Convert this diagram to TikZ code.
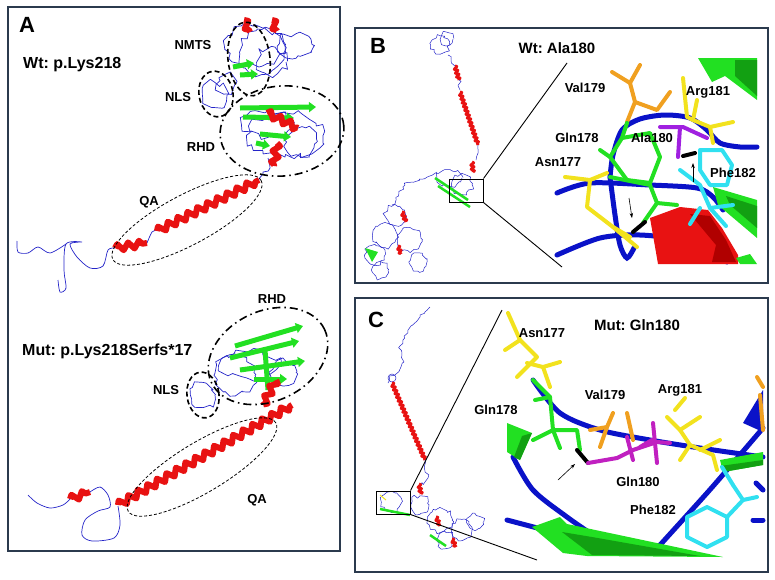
\documentclass[tikz,border=0pt]{standalone}
\usepackage{fontspec}
\setmainfont{Liberation Sans}
\usetikzlibrary{arrows.meta,decorations.pathmorphing,shapes.geometric}
\frenchspacing

\definecolor{panelc}{HTML}{2B3A4E}
\definecolor{coilc}{HTML}{2424C8}
\definecolor{helixc}{HTML}{E81212}
\definecolor{darkred}{HTML}{B00000}
\definecolor{strandc}{HTML}{22E022}
\definecolor{darkgreen}{HTML}{12A012}
\definecolor{bbc}{HTML}{0A12C8}
\definecolor{yelc}{HTML}{F2E21E}
\definecolor{orgc}{HTML}{F0A020}
\definecolor{cyanc}{HTML}{30E0F0}
\definecolor{purc}{HTML}{A020E0}
\definecolor{magc}{HTML}{C020C0}

\tikzset{
  panel/.style={draw=panelc, line width=1.8pt},
  coil/.style={draw=coilc, line width=0.7pt, line join=round, decorate, decoration={random steps, segment length=5pt, amplitude=3.5pt}},
  tinycoil/.style={draw=coilc, line width=0.5pt, line join=round, decorate, decoration={random steps, segment length=3pt, amplitude=2pt}},
  helix/.style={draw=helixc, line width=6pt, line join=round, decorate, decoration={zigzag, segment length=11pt, amplitude=3.5pt}},
  tinyhelix/.style={draw=helixc, line width=3pt, line join=round, decorate, decoration={zigzag, segment length=4pt, amplitude=1.5pt}},
  strand/.style={draw=strandc, line width=5pt, -{Triangle[length=7pt, width=10pt]}},
  domdash/.style={ellipse, draw, line width=1.6pt, dash pattern=on 5pt off 3pt, inner sep=0pt},
  domdot/.style={ellipse, draw, line width=1.6pt, dash pattern=on 8pt off 4pt on 1.5pt off 4pt, inner sep=0pt},
  qaring/.style={ellipse, draw, line width=0.8pt, dash pattern=on 3pt off 2pt, inner sep=0pt},
  backbone/.style={draw=bbc, line width=5pt, line cap=round},
  stick/.style={line width=4pt, line cap=round, line join=round},
  tag/.style={font=\bfseries\fontsize{22}{24}\selectfont, inner sep=0pt},
  lbl/.style={font=\bfseries\fontsize{16}{18}\selectfont, inner sep=0pt},
  ttl/.style={font=\bfseries\fontsize{15}{17}\selectfont, inner sep=0pt},
  dom/.style={font=\bfseries\fontsize{13}{15}\selectfont, inner sep=0pt},
  res/.style={font=\bfseries\fontsize{13}{15}\selectfont, inner sep=0pt},
  pointer/.style={-{Stealth[length=5pt, width=3.5pt]}, line width=0.6pt}
}

\begin{document}
\begin{tikzpicture}[x=1pt, y=-1pt]
\useasboundingbox (0,0) rectangle (775,579);
\pgfmathsetseed{11}
%panels
\draw[panel] (8,7) rectangle (340,551);
\draw[panel] (355,28) rectangle (768,283);
\draw[panel] (355,298) rectangle (768,572);
\node[tag] (tagA) at (27,25) {A};
\node[tag] (tagB) at (378,46) {B};
\node[tag] (tagC) at (376,320) {C};

%wild type chain
\draw[coil] (262,52) circle (22);
\draw[coil] (255,45) ellipse [x radius=30, y radius=20];
\draw[coil] (272,62) circle (14);
\draw[coil] (296,46) ellipse [x radius=18, y radius=12];
\draw[coil] (215,95) circle (12);
\draw[coil] (226,84) circle (9);
\draw[coil] (285,135) ellipse [x radius=38, y radius=22];
\draw[coil] (268,124) ellipse [x radius=25, y radius=13];
\draw[coil] (302,142) circle (15);
\draw[coil] (258,180) -- (263,172) -- (270,168) -- (268,158);
\draw[coilc, line width=0.7pt] plot[smooth] coordinates {(147,243) (152,232) (157,230)};
\draw[coilc, line width=0.7pt] plot[smooth] coordinates {(115,248) (108,250) (103,266) (90,268) (77,257) (70,244) (82,242) (66,244) (64,270) (66,288) (60,292) (58,280)};
\draw[coilc, line width=0.7pt] plot[smooth] coordinates {(17,241) (18,252) (28,253) (38,247) (50,253) (66,244)};
\draw[strand] (233,67) -- (254,63);
\draw[strand] (240,75) -- (258,74);
\draw[strand] (240,108) -- (316,107);
\draw[strand] (243,117) -- (294,118);
\draw[strand] (260,134) -- (291,137);
\draw[strand] (256,143) -- (270,146);
\draw[helix] (244,20) -- (250,32);
\draw[helix] (272,20) -- (277,31);
\draw[helix] (267,113) -- (298,128);
\draw[helix] (277,143) -- (274,166);
\draw[helix] (115,248) -- (147,243);
\draw[helix] (157,231) -- (259,180);
\node[domdash, minimum width=42pt, minimum height=74pt, rotate=7] (nmtsWt) at (249,59) {};
\node[domdash, minimum width=34pt, minimum height=46pt, rotate=10] (nlsWt) at (216,94) {};
\node[domdot, minimum width=124pt, minimum height=90pt, rotate=5] (rhdWt) at (282,131) {};
\node[qaring, minimum width=168pt, minimum height=50pt, rotate=28] (qaWt) at (187,220) {};
\node[lbl, anchor=west] (wtA) at (23,65) {Wt: p.Lys218};
\node[dom] (nmtsL) at (193,45) {NMTS};
\node[dom] (nlsL) at (178,97) {NLS};
\node[dom] (rhdL) at (201,147) {RHD};
\node[dom] (qaL) at (149,202) {QA};

%mutant chain
\draw[coil] (235,375) circle (20);
\draw[coil] (250,365) ellipse [x radius=30, y radius=14];
\draw[coil] (203,395) circle (12);
\draw[coil] (283,372) circle (13);
\draw[coilc, line width=0.7pt] plot[smooth] coordinates {(28,495) (37,503) (50,508) (63,505) (70,499)};
\draw[coilc, line width=0.7pt] plot[smooth] coordinates {(90,492) (100,487) (108,495) (110,507) (98,511) (85,520) (82,535) (92,541) (114,538) (120,525) (118,506)};
\draw[strand] (235,346) -- (303,326);
\draw[strand] (230,358) -- (299,341);
\draw[strand] (240,370) -- (305,361);
\draw[strand] (254,379) -- (287,379);
\draw[strandc, line width=5pt] (265,350) -- (268,390);
\draw[helix] (70,499) -- (90,492);
\draw[helix] (276,380) -- (263,405);
\draw[helix] (118,505) -- (292,405);
\node[domdot, minimum width=125pt, minimum height=90pt, rotate=25] (rhdMut) at (268,356) {};
\node[domdash, minimum width=32pt, minimum height=46pt, rotate=8] (nlsMut) at (203,395) {};
\node[qaring, minimum width=172pt, minimum height=50pt, rotate=31] (qaMut) at (202,467) {};
\node[lbl, anchor=west] (mutA) at (22,351) {Mut: p.Lys218Serfs*17};
\node[dom] (rhdM) at (272,299) {RHD};
\node[dom] (nlsM) at (166,390) {NLS};
\node[dom] (qaM) at (257,500) {QA};

%overview B
\draw[tinycoil] (440,45) circle (9);
\draw[tinycoil] (447,39) circle (6);
\draw[tinycoil] (448,55) -- (455,66);
\draw[tinyhelix] (455,66) -- (459,80);
\draw[tinycoil] (459,80) -- (460,90);
\draw[tinyhelix] (460,92) -- (478,145);
\draw[tinycoil] (478,145) -- (476,160);
\draw[tinyhelix] (472,162) -- (473,172);
\draw[tinycoil] (462,184) circle (10);
\draw[tinycoil] (450,178) ellipse [x radius=12, y radius=8];
\draw[strandc, line width=2.5pt] (435,178) -- (468,200);
\draw[strandc, line width=2.5pt] (438,186) -- (470,207);
\draw[tinycoil] (437,172) -- (405,185) -- (392,205);
\foreach \cx/\cy/\r in {395/215/10, 385/235/12, 375/255/10, 410/240/12, 380/270/8, 418/262/9}
  \draw[tinycoil] (\cx,\cy) circle (\r);
\draw[tinyhelix] (402,212) -- (406,222);
\draw[tinyhelix] (398,246) -- (401,254);
\fill[strandc] (365,248) -- (378,252) -- (372,262) -- cycle;
\node[draw, line width=1pt, minimum width=34pt, minimum height=23pt, inner sep=0pt] (boxB) at (466,190.5) {};
\coordinate (zoomBtop) at (567,63);
\coordinate (zoomBbot) at (562,267);
\draw[line width=0.9pt] (boxB.north east) -- (zoomBtop);
\draw[line width=0.9pt] (boxB.south east) -- (zoomBbot);

%inset B
\draw[backbone] plot[smooth] coordinates {(610,177) (613,155) (622,130) (640,119) (665,115) (690,118) (707,130) (720,143) (740,147) (757,147)};
\draw[backbone] plot[smooth] coordinates {(557,193) (590,183) (650,185) (697,188) (713,197) (723,210)};
\draw[backbone] plot[smooth] coordinates {(557,255) (600,238) (640,235) (683,241) (727,262)};
\draw[backbone] plot[smooth] coordinates {(610,177) (615,215) (620,245) (627,258) (634,248)};
\fill[helixc] (650,218) -- (680,207) -- (708,210) -- (722,228) -- (738,255) -- (738,264) -- (658,264) -- cycle;
\fill[darkred] (690,214) -- (710,216) -- (726,240) -- (736,262) -- (712,262) -- (716,245) -- cycle;
\fill[strandc] (713,187) -- (757,200) -- (757,238) -- (718,205) -- cycle;
\fill[darkgreen] (726,196) -- (757,206) -- (757,228) -- (730,205) -- cycle;
\fill[strandc] (698,58) -- (757,58) -- (757,100) -- (725,76) -- (712,82) -- cycle;
\fill[darkgreen] (735,60) -- (757,60) -- (757,96) -- (735,76) -- cycle;
\fill[strandc] (736,258) -- (750,254) -- (757,264) -- (740,264) -- cycle;
\draw[stick, orgc] (612,72) -- (630,83) -- (640,65);
\draw[stick, orgc] (630,83) -- (635,102) -- (627,122);
\draw[stick, orgc] (635,102) -- (657,110) -- (670,92);
\draw[stick, yelc] (683,78) -- (687,117) -- (693,120) -- (710,127) -- (733,122);
\draw[stick, yelc] (693,120) -- (697,100);
\draw[stick, yelc] (710,127) -- (713,143);
\draw[stick, purc] (660,127) -- (683,127) -- (707,138);
\draw[stick, purc] (680,127) -- (678,157);
\draw[stick, black] (683,156) -- (695,153);
\draw[stick, cyanc] (700,150) -- (722,150) -- (732,165) -- (727,185) -- (710,185) -- (700,170) -- cycle;
\draw[stick, cyanc] (680,170) -- (700,185) -- (710,208) -- (726,226);
\draw[stick, cyanc] (700,208) -- (690,224);
\draw[stick, cyanc] (710,208) -- (733,205);
\draw[stick, strandc] (622,138) -- (650,133) -- (660,157) -- (650,183) -- (627,180) -- (610,157) -- cycle;
\draw[stick, strandc] (610,177) -- (650,185) -- (657,203) -- (643,223);
\draw[stick, strandc] (657,203) -- (677,205);
\draw[stick, strandc] (622,138) -- (627,123);
\draw[stick, strandc] (610,157) -- (600,150);
\draw[stick, black] (633,232) -- (645,222);
\draw[stick, yelc] (565,177) -- (590,180) -- (607,173);
\draw[stick, yelc] (590,180) -- (587,207) -- (613,227) -- (637,247);
\draw[stick, yelc] (613,227) -- (630,237);
\coordinate (ptB1s) at (693,182);
\coordinate (ptB1e) at (693,163);
\coordinate (ptB2s) at (629,198);
\coordinate (ptB2e) at (632,218);
\draw[pointer] (ptB1s) -- (ptB1e);
\draw[pointer] (ptB2s) -- (ptB2e);
\node[ttl] (titleB) at (557,48) {Wt: Ala180};
\node[res] (val179B) at (585,88) {Val179};
\node[res] (arg181B) at (708,92) {Arg181};
\node[res] (gln178B) at (577,138) {Gln178};
\node[res] (ala180B) at (652,138) {Ala180};
\node[res] (asn177B) at (558,162) {Asn177};
\node[res] (phe182B) at (733,173) {Phe182};

%overview C
\draw[tinycoil] (430,307) -- (420,315) -- (408,330) -- (400,346) -- (404,362) -- (396,374) -- (389,376) -- (388,383);
\draw[coilc, line width=0.5pt] (392,378) circle (4);
\draw[tinyhelix] (392,383) -- (425,460);
\draw[tinycoil] (425,460) -- (428,478) -- (420,485);
\draw[tinyhelix] (419,484) -- (421,494);
\foreach \cx/\cy/\r in {392/502/10, 420/505/9, 440/520/12, 462/530/10, 445/540/8, 475/522/8}
  \draw[tinycoil] (\cx,\cy) circle (\r);
\draw[tinyhelix] (436,517) -- (440,526);
\draw[tinyhelix] (452,539) -- (456,547);
\draw[strandc, line width=2.5pt] (380,509) -- (410,515);
\draw[strandc, line width=2.5pt] (430,535) -- (446,546);
\draw[yelc, line width=1pt] (380,495) -- (386,500);
\node[draw, line width=1pt, minimum width=34pt, minimum height=23pt, inner sep=0pt] (boxC) at (393,502.5) {};
\coordinate (zoomCtop) at (502,310);
\coordinate (zoomCbot) at (537,560);
\draw[line width=0.9pt] (boxC.north east) -- (zoomCtop);
\draw[line width=0.9pt] (boxC.south east) -- (zoomCbot);

%inset C
\draw[backbone] plot[smooth] coordinates {(533,380) (560,413) (600,430) (650,440) (700,448) (763,457)};
\draw[backbone] plot[smooth] coordinates {(513,457) (533,490) (567,517) (593,535)};
\draw[backbone] (507,520) -- (545,530);
\draw[backbone] plot[smooth] coordinates {(660,545) (707,493) (733,463) (763,428)};
\fill[bbc] (743,423) -- (763,390) -- (763,432) -- cycle;
\draw[backbone] (756,483) -- (763,490);
\draw[backbone] (753,520) -- (763,520);
\fill[strandc] (507,423) -- (532,433) -- (520,460) -- (507,452) -- cycle;
\fill[darkgreen] (522,436) -- (532,433) -- (520,460) -- (514,457) -- cycle;
\fill[strandc] (532,527) -- (560,517) -- (567,524) -- (723,557) -- (587,556) -- (563,553) -- cycle;
\fill[darkgreen] (562,532) -- (592,537) -- (700,556) -- (592,555) -- cycle;
\fill[strandc] (720,460) -- (763,452) -- (763,465) -- (723,472) -- cycle;
\fill[darkgreen] (720,466) -- (763,460) -- (763,465) -- (723,472) -- cycle;
\draw[stick, yelc] (508,313) -- (520,340) -- (537,357) -- (517,377);
\draw[stick, yelc] (527,363) -- (543,367) -- (560,362);
\draw[stick, yelc] (543,367) -- (550,387);
\draw[stick, yelc] (520,340) -- (505,350);
\draw[stick, strandc] (533,380) -- (550,397) -- (553,430) -- (577,430) -- (580,450);
\draw[stick, strandc] (553,430) -- (533,440);
\draw[stick, strandc] (550,397) -- (535,400);
\draw[stick, strandc] (553,430) -- (560,448);
\draw[stick, black] (577,450) -- (588,463);
\draw[stick, orgc] (590,430) -- (607,427) -- (613,413);
\draw[stick, orgc] (607,427) -- (600,447);
\draw[stick, orgc] (627,413) -- (633,440);
\draw[stick, orgc] (757,377) -- (763,387);
\draw[stick, orgc] (760,395) -- (763,430);
\draw[stick, magc] (588,463) -- (617,458) -- (633,450) -- (657,442) -- (670,443);
\draw[stick, magc] (627,437) -- (633,460);
\draw[stick, magc] (653,423) -- (657,463);
\draw[stick, magc] (640,447) -- (652,440);
\draw[stick, yelc] (667,417) -- (680,430) -- (690,445) -- (713,455) -- (717,470);
\draw[stick, yelc] (680,430) -- (700,417);
\draw[stick, yelc] (690,445) -- (680,460);
\draw[stick, yelc] (700,450) -- (720,440);
\draw[stick, yelc] (675,410) -- (685,398);
\draw[stick, cyanc] (687,517) -- (707,507) -- (727,517) -- (727,537) -- (707,547) -- (687,537) -- cycle;
\draw[stick, cyanc] (727,517) -- (743,500) -- (733,485);
\draw[stick, cyanc] (743,500) -- (757,497);
\draw[stick, cyanc] (733,485) -- (722,467);
\coordinate (ptCs) at (558,480);
\coordinate (ptCe) at (575,464);
\draw[pointer] (ptCs) -- (ptCe);
\node[ttl] (titleC) at (637,325) {Mut: Gln180};
\node[res] (asn177C) at (542,333) {Asn177};
\node[res] (val179C) at (605,395) {Val179};
\node[res] (arg181C) at (680,390) {Arg181};
\node[res] (gln178C) at (496,410) {Gln178};
\node[res] (gln180C) at (638,482) {Gln180};
\node[res] (phe182C) at (653,510) {Phe182};
\end{tikzpicture}
\end{document}
